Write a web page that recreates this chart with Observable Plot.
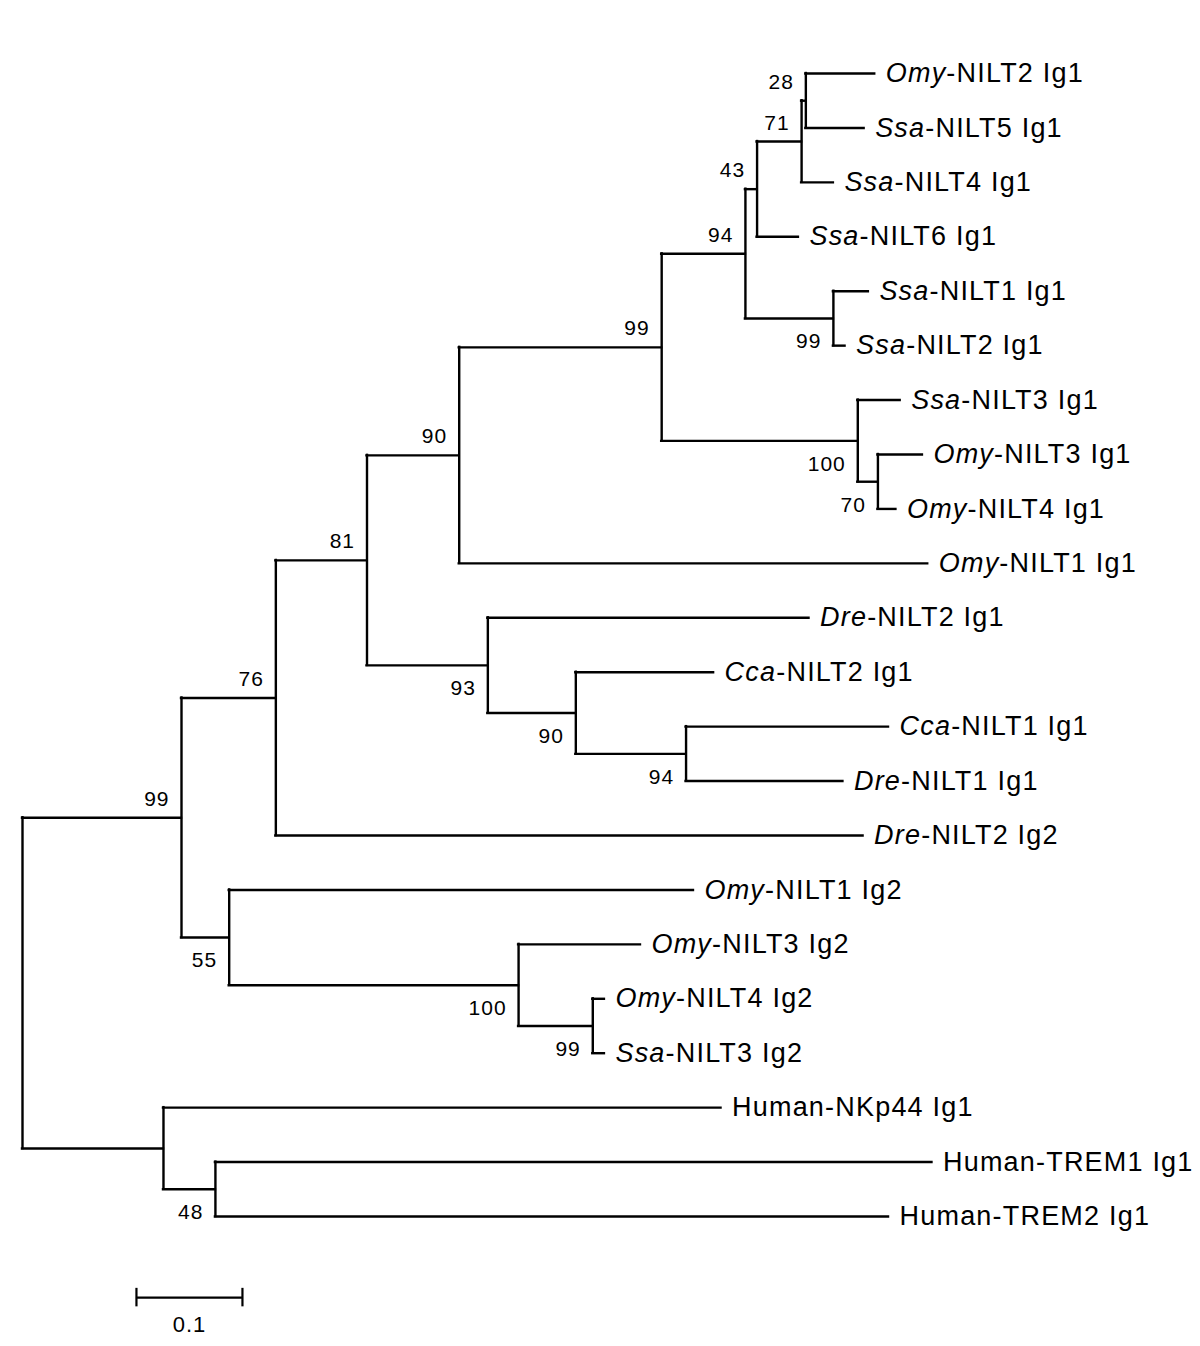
<!DOCTYPE html>
<html>
<head>
<meta charset="utf-8">
<script src="https://cdn.jsdelivr.net/npm/d3@7"></script>
<script src="https://cdn.jsdelivr.net/npm/@observablehq/plot@0.6"></script>
<style>
  html, body { margin: 0; padding: 0; background: #fff; }
  #chart svg { display: block; }
</style>
</head>
<body>
<div id="chart"></div>
<script>
// ---- Data: leaves (top to bottom) ----
const leafNames = [
  "Omy-NILT2 Ig1", "Ssa-NILT5 Ig1", "Ssa-NILT4 Ig1", "Ssa-NILT6 Ig1",
  "Ssa-NILT1 Ig1", "Ssa-NILT2 Ig1", "Ssa-NILT3 Ig1", "Omy-NILT3 Ig1",
  "Omy-NILT4 Ig1", "Omy-NILT1 Ig1", "Dre-NILT2 Ig1", "Cca-NILT2 Ig1",
  "Cca-NILT1 Ig1", "Dre-NILT1 Ig1", "Dre-NILT2 Ig2", "Omy-NILT1 Ig2",
  "Omy-NILT3 Ig2", "Omy-NILT4 Ig2", "Ssa-NILT3 Ig2", "Human-NKp44 Ig1",
  "Human-TREM1 Ig1", "Human-TREM2 Ig1"
];
const leafParent = [
  "n28", "n28", "n71", "n43", "n99c", "n99c", "n100a", "n70", "n70", "n90a",
  "n93", "n90b", "n94b", "n94b", "n76", "n55", "n100b", "n99d", "n99d",
  "nH", "n48", "n48"
];
// distance from root (substitutions per site)
const leafDepth = [
  0.804, 0.794, 0.765, 0.732, 0.798, 0.776, 0.828, 0.849, 0.824, 0.854,
  0.742, 0.652, 0.817, 0.774, 0.793, 0.633, 0.583, 0.549, 0.549,
  0.659, 0.858, 0.817
];

// ---- Data: internal nodes ----
const nodeIds = [
  "root", "n99a", "nH", "n48", "n76", "n55", "n81", "n90a", "n99b", "n94a",
  "n43", "n71", "n28", "n99c", "n100a", "n70", "n93", "n90b", "n94b",
  "n100b", "n99d"
];
const nodeParent = [
  null, "root", "root", "nH", "n99a", "n99a", "n76", "n81", "n90a", "n99b",
  "n94a", "n43", "n71", "n94a", "n99b", "n100a", "n81", "n93", "n90b",
  "n55", "n100b"
];
const nodeDepth = [
  0, 0.150, 0.133, 0.182, 0.239, 0.195, 0.325, 0.412, 0.603, 0.682,
  0.693, 0.735, 0.739, 0.765, 0.788, 0.807, 0.439, 0.522, 0.626,
  0.468, 0.538
];
const nodeSupport = [
  null, 99, null, 48, 76, 55, 81, 90, 99, 94,
  43, 71, 28, 99, 100, 70, 93, 90, 94,
  100, 99
];
const italicPrefixes = ["Omy", "Ssa", "Dre", "Cca"];
const scaleBarLength = 0.1;
const scaleBarLabel = "0.1";

// ---- Build tree ----
const nodes = new Map();
nodeIds.forEach((id, i) => nodes.set(id, {id, parent: nodeParent[i], depth: nodeDepth[i], support: nodeSupport[i], children: [], leaf: false}));
const leaves = leafNames.map((name, i) => ({id: name, name, parent: leafParent[i], depth: leafDepth[i], y: i, leaf: true, children: []}));
leaves.forEach(l => nodes.set(l.id, l));
for (const n of nodes.values()) if (n.parent) nodes.get(n.parent).children.push(n);
function layoutY(n) {
  if (n.leaf) return n.y;
  const ys = n.children.map(layoutY);
  n.yMin = Math.min(...ys); n.yMax = Math.max(...ys);
  n.y = (n.yMin + n.yMax) / 2;
  return n.y;
}
layoutY(nodes.get("root"));

const all = [...nodes.values()];
const horizontals = all.filter(n => n.parent).map(n => ({x1: nodes.get(n.parent).depth, x2: n.depth, y: n.y}));
const internals = all.filter(n => !n.leaf);
const verticals = internals.map(n => ({x: n.depth, y1: n.yMin, y2: n.yMax}));
const supports = internals.filter(n => n.support != null).map(n => ({
  x: n.depth, y: n.y, label: String(n.support),
  above: n.parent ? n.y < nodes.get(n.parent).y : true
}));

const sbX = 0.1075, sbY = 22.49;
const scaleBar = [{x1: sbX, x2: sbX + scaleBarLength, y: sbY}];

const chart = Plot.plot({
  width: 1200,
  height: 1346,
  margin: 0,
  x: {domain: [0, 1], range: [22, 1082], axis: null},
  y: {domain: [0, 21], range: [73, 1216], axis: null},
  style: {fontFamily: "'Liberation Sans', Arial, Helvetica, sans-serif", background: "#fff", color: "#000"},
  marks: [
    Plot.ruleY(horizontals, {y: "y", x1: "x1", x2: "x2", stroke: "#000", strokeWidth: 2.4, strokeLinecap: "square"}),
    Plot.ruleX(verticals, {x: "x", y1: "y1", y2: "y2", stroke: "#000", strokeWidth: 2.4, strokeLinecap: "square"}),
    Plot.text(leaves, {x: "depth", y: "y", text: "name", textAnchor: "start", dx: 11, fontSize: 27, fill: "#000"}),
    Plot.text(supports.filter(d => d.above), {x: "x", y: "y", text: "label", textAnchor: "end", lineAnchor: "bottom", dx: -12, dy: -12, fontSize: 21, fill: "#000"}),
    Plot.text(supports.filter(d => !d.above), {x: "x", y: "y", text: "label", textAnchor: "end", lineAnchor: "top", dx: -12, dy: 15, fontSize: 21, fill: "#000"}),
    Plot.ruleY(scaleBar, {y: "y", x1: "x1", x2: "x2", stroke: "#000", strokeWidth: 2.2}),
    Plot.ruleX([sbX, sbX + scaleBarLength], {x: d => d, y1: sbY - 0.17, y2: sbY + 0.17, stroke: "#000", strokeWidth: 2.2}),
    Plot.text([scaleBarLabel], {x: sbX + scaleBarLength / 2, y: 23.13, text: d => d, lineAnchor: "bottom", fontSize: 22, fill: "#000"})
  ]
});

// Italicize species prefixes and widen letter spacing to match the original typesetting
const leafSet = new Set(leafNames);
chart.querySelectorAll("text").forEach(t => {
  const s = t.textContent;
  if (leafSet.has(s)) {
    t.setAttribute("letter-spacing", "1.2");
    const pre = italicPrefixes.find(p => s.startsWith(p + "-"));
    if (pre) {
      t.textContent = "";
      const ns = "http://www.w3.org/2000/svg";
      const a = document.createElementNS(ns, "tspan");
      a.setAttribute("font-style", "italic");
      a.textContent = pre;
      const b = document.createElementNS(ns, "tspan");
      b.textContent = s.slice(pre.length);
      t.appendChild(a); t.appendChild(b);
    }
  } else if (/^\d+$/.test(s)) {
    t.setAttribute("letter-spacing", "1");
  } else if (s === scaleBarLabel) {
    t.setAttribute("letter-spacing", "1");
  }
});

document.getElementById("chart").appendChild(chart);
</script>
</body>
</html>
